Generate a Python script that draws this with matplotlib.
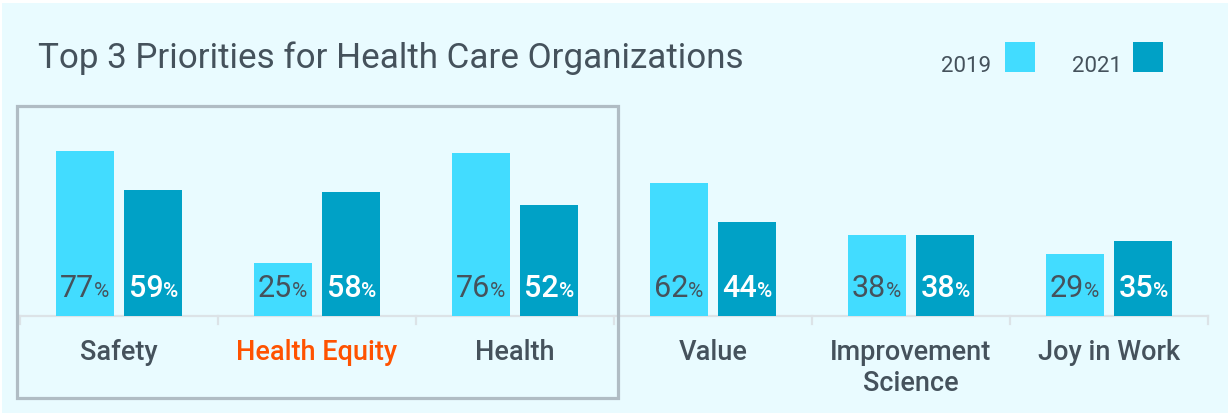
import matplotlib
matplotlib.use("Agg")
import matplotlib.pyplot as plt
from matplotlib.patches import Rectangle
import numpy as np

categories = ["Safety", "Health Equity", "Health", "Value", "Improvement\nScience", "Joy in Work"]
values_2019 = [77, 25, 76, 62, 38, 29]
values_2021 = [59, 58, 52, 44, 38, 35]
series_names = ["2019", "2021"]
title = "Top 3 Priorities for Health Care Organizations"

C19 = "#42DCFF"
C21 = "#00A1C6"
GREY = "#45525C"
ORANGE = "#FF5200"
BG = "#E9FBFF"

W, H = 1228, 414
fig = plt.figure(figsize=(W / 100, H / 100), dpi=100, facecolor="white")
plt.rcParams["font.family"] = ["Roboto", "DejaVu Sans"]

def fx(px):
    return px / W

def fy(py):
    return 1 - py / H

# panel background
fig.patches.append(Rectangle((fx(2), 0), 1 - fx(2), fy(4), transform=fig.transFigure,
                             facecolor=BG, edgecolor="none", zorder=-10))

# axes
ax_left, ax_right = 20, 1208
ax_base, ax_top = 317, 100
ax = fig.add_axes([fx(ax_left), fy(ax_base), fx(ax_right - ax_left), (ax_base - ax_top) / H])
ax.set_zorder(1)
ax.set_facecolor("none")
px_per_pct = 2.14
ax.set_xlim(-0.5, len(categories) - 0.5)
ax.set_ylim(0, (ax_base - ax_top) / px_per_pct)
for s in ax.spines.values():
    s.set_visible(False)
ax.set_xticks([])
ax.set_yticks([])

x = np.arange(len(categories))
bw = 0.293
off = 0.174
ax.bar(x - off, values_2019, width=bw, color=C19, zorder=2)
ax.bar(x + off, values_2021, width=bw, color=C21, zorder=2)

# baseline and boundary ticks
ax.axhline(0, color="#DCE3E7", lw=1.6, zorder=1, clip_on=False)
for b in np.arange(-0.5, len(categories), 1.0):
    ax.plot([b, b], [0, -8 / px_per_pct], color="#DCE3E7", lw=1.6, clip_on=False, zorder=1)

# category labels
for i, c in enumerate(categories):
    col = ORANGE if c == "Health Equity" else GREY
    ax.annotate(c, xy=(i, 0), xycoords="data", xytext=(0, -15.5), textcoords="offset points",
                ha="center", va="top", fontsize=19.5, color=col, fontweight="medium",
                linespacing=1.2)

# value labels: number + smaller %
fig.canvas.draw()
renderer = fig.canvas.get_renderer()
ybase = 14.5

def value_label(xc, v, color, weight):
    t1 = ax.annotate(f"{v}", xy=(xc, 0), xycoords="data", xytext=(0, ybase), textcoords="offset points",
                     ha="right", va="baseline", fontsize=22, color=color, fontweight=weight, zorder=3)
    t2 = ax.annotate("%", xy=(xc, 0), xycoords="data", xytext=(0, ybase), textcoords="offset points",
                     ha="left", va="baseline", fontsize=15, color=color, fontweight=weight, zorder=3)
    w1 = t1.get_window_extent(renderer).width
    w2 = t2.get_window_extent(renderer).width
    shift = (w1 - (w1 + w2) / 2) * 72 / 100
    t1.set_position((shift, ybase))
    t2.set_position((shift, ybase))

for i in range(len(categories)):
    value_label(i - off, values_2019[i], GREY, "normal")
    value_label(i + off, values_2021[i], "white", "medium")

# title
fig.text(fx(38), fy(68), title, fontsize=25.2, color=GREY, ha="left", va="baseline", fontweight="normal")

# legend
leg = [(series_names[0], C19, 991, 1005), (series_names[1], C21, 1122, 1133)]
for name, col, tx, sx in leg:
    fig.text(fx(tx), fy(72.5), name, fontsize=16, color=GREY, ha="right", va="baseline")
    fig.patches.append(Rectangle((fx(sx), fy(73)), fx(30), 30 / H, transform=fig.transFigure,
                                 facecolor=col, edgecolor="none", zorder=2))

# highlight box
fig.patches.append(Rectangle((fx(17), fy(399)), fx(618 - 17), (399 - 107) / H, transform=fig.transFigure,
                             facecolor="none", edgecolor="#B0BCC4", lw=2.3, zorder=3))

fig.savefig("out.png", dpi=100, facecolor="white")
